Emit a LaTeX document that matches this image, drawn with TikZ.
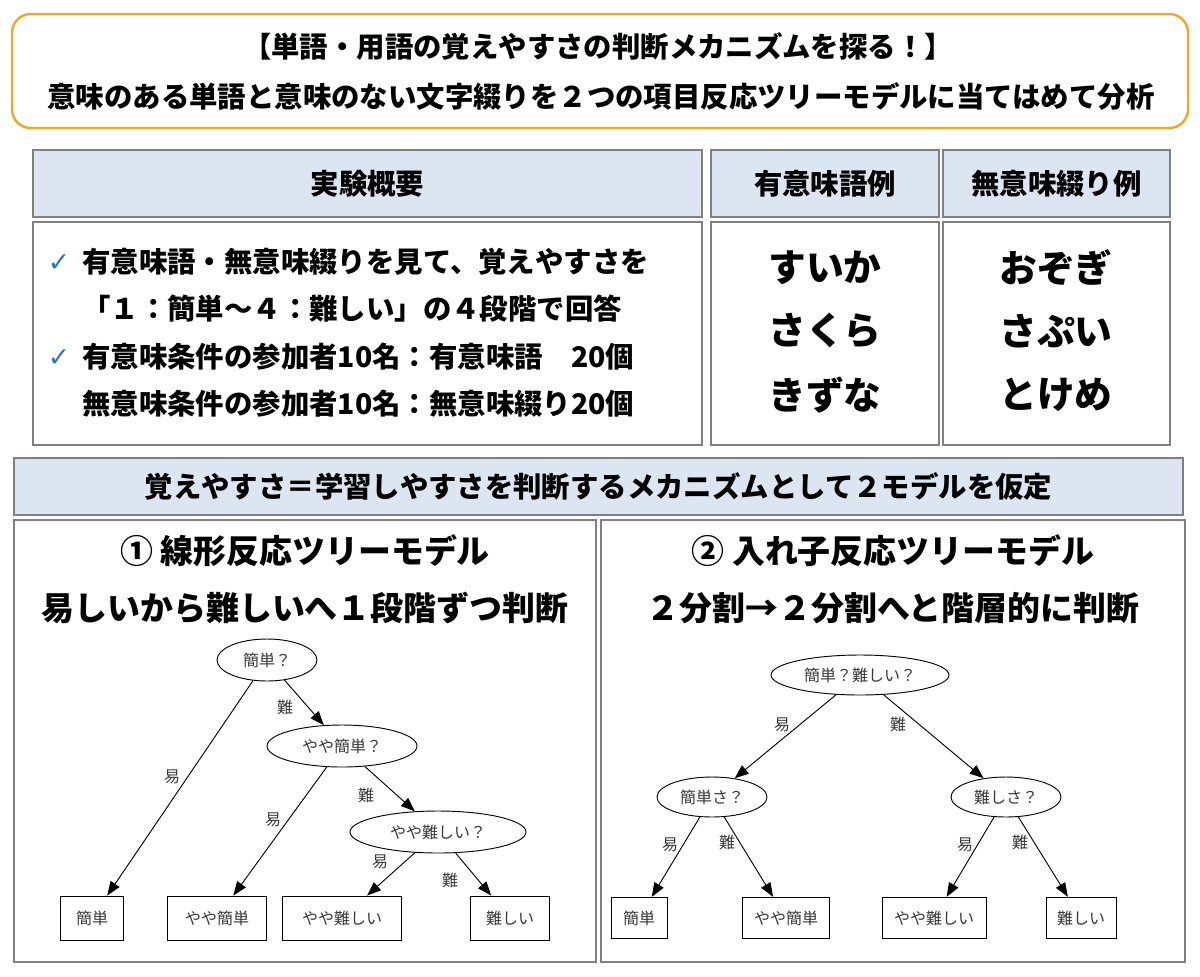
\documentclass[tikz,border=0pt]{standalone}
\usepackage{fontspec}
\setmainfont{Noto Sans CJK JP}
\newfontfamily\symfont{DejaVu Sans}
\usetikzlibrary{shapes.geometric, arrows.meta, positioning}
\definecolor{boxgray}{RGB}{128,128,128}
\definecolor{headblue}{RGB}{220,230,242}
\definecolor{titleorange}{RGB}{242,166,40}
\definecolor{checkblue}{RGB}{46,117,182}
\definecolor{treegray}{RGB}{55,55,55}

\begin{document}
\begin{tikzpicture}[x=0.75pt, y=-0.75pt,
  panel/.style={rectangle, draw=boxgray, line width=1.6pt, inner sep=0pt},
  headpanel/.style={panel, fill=headblue, font=\fontsize{21.3}{24}\selectfont\bfseries},
  bigtext/.style={inner sep=0pt, font=\fontsize{21.3}{24}\selectfont\bfseries},
  wordtext/.style={inner sep=0pt, font=\fontsize{28.3}{30}\selectfont\bfseries},
  modeltext/.style={inner sep=0pt, font=\fontsize{24.7}{28}\selectfont\bfseries},
  checktext/.style={inner sep=0pt, text=checkblue, font=\symfont\fontsize{20}{22}\selectfont},
  qnode/.style={ellipse, draw, line width=0.7pt, inner sep=0pt, text=treegray, font=\fontsize{12}{14}\selectfont},
  leaf/.style={rectangle, draw, line width=0.7pt, inner sep=0pt, text=treegray, font=\fontsize{12}{14}\selectfont},
  elabel/.style={inner sep=0pt, text=treegray, font=\fontsize{12}{14}\selectfont},
  branch/.style={-{Triangle[length=10.5pt,width=8pt]}, line width=0.7pt}]
\useasboundingbox (0,0) rectangle (1200,976);

% Title
\node[draw=titleorange, line width=1.8pt, rounded corners=14pt, minimum width=882pt, minimum height=85.5pt] (titlebox) at (600,71) {};
\node[bigtext] (title1) at (598,46) {【単語・用語の覚えやすさの判断メカニズムを探る！】};
\node[bigtext] (title2) at (601,96) {意味のある単語と意味のない文字綴りを２つの項目反応ツリーモデルに当てはめて分析};

% Header row
\node[headpanel, minimum width=501.75pt, minimum height=50.25pt] (overview) at (367.5,183.5) {実験概要};
\node[headpanel, minimum width=171pt, minimum height=50.25pt] (meanhead) at (825,183.5) {有意味語例};
\node[headpanel, minimum width=170.25pt, minimum height=50.25pt] (nonhead) at (1056.5,183.5) {無意味綴り例};

% Content row
\node[panel, minimum width=501.75pt, minimum height=167.25pt] (overbox) at (367.5,333.5) {};
\node[panel, minimum width=171pt, minimum height=167.25pt] (meanbox) at (825,333.5) {};
\node[panel, minimum width=170.25pt, minimum height=167.25pt] (nonbox) at (1056.5,333.5) {};

\node[checktext] (chk1) at (59,263) {✓};
\node[bigtext, anchor=west] (line1) at (82,262) {有意味語・無意味綴りを見て、覚えやすさを};
\node[bigtext, anchor=west] (line2) at (82,309) {「１：簡単～４：難しい」の４段階で回答};
\node[checktext] (chk2) at (59,358) {✓};
\node[bigtext, anchor=west] (line3) at (82,357) {有意味条件の参加者10名：\makebox[5em][l]{有意味語}20個};
\node[bigtext, anchor=west] (line4) at (82,404) {無意味条件の参加者10名：無意味綴り20個};

\node[wordtext] (mw1) at (825,268) {すいか};
\node[wordtext] (mw2) at (825,331) {さくら};
\node[wordtext] (mw3) at (825,395) {きずな};
\node[wordtext] (nw1) at (1056,268) {おぞぎ};
\node[wordtext] (nw2) at (1056,331) {さぷい};
\node[wordtext] (nw3) at (1056,395) {とけめ};

% Band
\node[headpanel, minimum width=876.75pt, minimum height=42.75pt] (band) at (598.5,486.5) {覚えやすさ＝学習しやすさを判断するメカニズムとして２モデルを仮定};

% Model panels
\node[panel, minimum width=436.5pt, minimum height=331.5pt] (linpanel) at (305,741) {};
\node[panel, minimum width=438pt, minimum height=331.5pt] (nestpanel) at (893,741) {};
\node[modeltext] (lintitle) at (305,551) {① 線形反応ツリーモデル};
\node[modeltext] (linsub) at (305,608) {易しいから難しいへ１段階ずつ判断};
\node[modeltext] (nesttitle) at (893,551) {② 入れ子反応ツリーモデル};
\node[modeltext] (nestsub) at (893,608) {２分割→２分割へと階層的に判断};

% Linear tree
\node[qnode, minimum width=75pt, minimum height=31.5pt] (lq1) at (267,660) {簡単？};
\node[qnode, minimum width=112.5pt, minimum height=31.5pt] (lq2) at (342,746) {やや簡単？};
\node[qnode, minimum width=132pt, minimum height=31.5pt] (lq3) at (438,832) {やや難しい？};
\node[leaf, minimum width=47pt, minimum height=33pt] (la1) at (92,918) {簡単};
\node[leaf, minimum width=74pt, minimum height=33pt] (la2) at (217,918) {やや簡単};
\node[leaf, minimum width=89pt, minimum height=33pt] (la3) at (342,918) {やや難しい};
\node[leaf, minimum width=59pt, minimum height=33pt] (la4) at (510,918) {難しい};
\draw[branch] (lq1) -- (la1);
\draw[branch] (lq1) -- (lq2);
\draw[branch] (lq2) -- (la2);
\draw[branch] (lq2) -- (lq3);
\draw[branch] (lq3) -- (la3);
\draw[branch] (lq3) -- (la4);
\node[elabel] (ll1) at (172,777) {易};
\node[elabel] (ll2) at (285,707) {難};
\node[elabel] (ll3) at (273,820) {易};
\node[elabel] (ll4) at (366,795) {難};
\node[elabel] (ll5) at (380,862) {易};
\node[elabel] (ll6) at (450,880) {難};

% Nested tree
\node[qnode, minimum width=133.5pt, minimum height=30pt] (nq1) at (860,675) {簡単？難しい？};
\node[qnode, minimum width=82.5pt, minimum height=30pt] (nq2) at (712,797) {簡単さ？};
\node[qnode, minimum width=82.5pt, minimum height=30pt] (nq3) at (1006,797) {難しさ？};
\node[leaf, minimum width=42pt, minimum height=31pt] (na1) at (639,918) {簡単};
\node[leaf, minimum width=65pt, minimum height=31pt] (na2) at (786,918) {やや簡単};
\node[leaf, minimum width=78pt, minimum height=31pt] (na3) at (934,918) {やや難しい};
\node[leaf, minimum width=52.5pt, minimum height=31pt] (na4) at (1081,918) {難しい};
\draw[branch] (nq1) -- (nq2);
\draw[branch] (nq1) -- (nq3);
\draw[branch] (nq2) -- (na1);
\draw[branch] (nq2) -- (na2);
\draw[branch] (nq3) -- (na3);
\draw[branch] (nq3) -- (na4);
\node[elabel] (nl1) at (782,725) {易};
\node[elabel] (nl2) at (898,724) {難};
\node[elabel] (nl3) at (670,845) {易};
\node[elabel] (nl4) at (727,842) {難};
\node[elabel] (nl5) at (965,845) {易};
\node[elabel] (nl6) at (1020,842) {難};
\end{tikzpicture}
\end{document}
